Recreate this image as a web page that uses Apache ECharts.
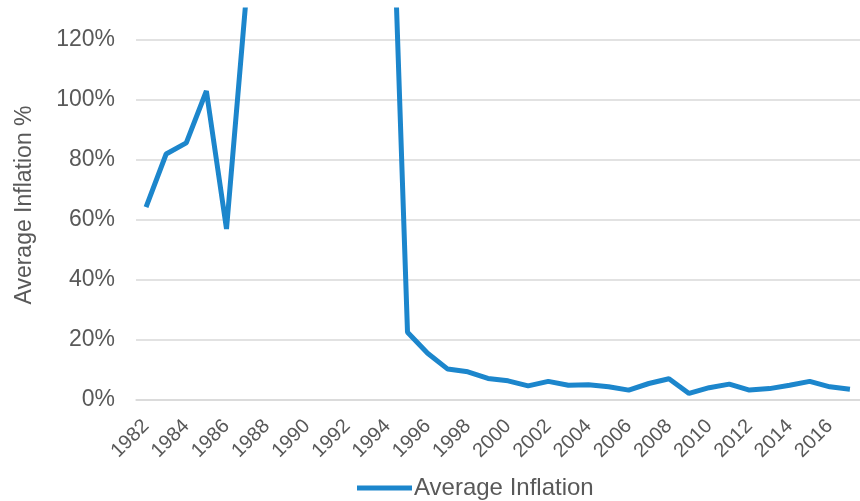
<!DOCTYPE html>
<html><head><meta charset="utf-8">
<script src="https://cdn.jsdelivr.net/npm/echarts@6/dist/echarts.min.js"></script>
<style>html,body{margin:0;padding:0;background:#fff}#c{width:860px;height:501px}</style>
</head><body><div id="c"></div>
<script>
const years = ['1982','1983','1984','1985','1986','1987','1988','1989','1990','1991','1992','1993','1994','1995','1996','1997','1998','1999','2000','2001','2002','2003','2004','2005','2006','2007','2008','2009','2010','2011','2012','2013','2014','2015','2016','2017'];
const inflation = [64.3,82,85.7,103,57,136,685,1320,2950,430,950,1930,221,22.6,15.6,10.3,9.4,7.2,6.4,4.7,6.2,4.9,5.1,4.4,3.3,5.5,7.1,2.2,4.1,5.3,3.3,3.8,4.9,6.2,4.4,3.6];
const seriesName = 'Average Inflation';
const yTicks = [0,20,40,60,80,100,120];

const chart = echarts.init(document.getElementById('c'), null, {renderer:'canvas'});
const font = 'Liberation Sans, Arial, sans-serif';
chart.setOption({
  animation:false,
  textStyle:{fontFamily:font},
  grid:{left:136,right:-7,top:10,bottom:101,containLabel:false},
  legend:{
    data:[seriesName], left:352, bottom:-4, icon:'rect', itemWidth:55, itemHeight:5, itemGap:4,
    textStyle:{fontSize:24,color:'#595959',fontFamily:font, padding:[0,0,0,-3]}
  },
  xAxis:{
    type:'category', data:years, boundaryGap:true,
    axisLine:{show:true,lineStyle:{color:'#d9d9d9',width:1.5}},
    axisTick:{show:false},
    axisLabel:{interval:1,rotate:45,fontSize:20,color:'#595959',fontFamily:font,margin:23}
  },
  yAxis:{
    type:'value', min:0, max:130, interval:20,
    name:'Average Inflation %', nameLocation:'middle', nameGap:100,
    nameTextStyle:{fontSize:23,color:'#595959',fontFamily:font},
    axisLine:{show:false}, axisTick:{show:false},
    axisLabel:{fontSize:23,color:'#595959',fontFamily:font,margin:21,showMaxLabel:false,
      formatter:v=> yTicks.includes(v) ? v+'%' : ''},
    splitLine:{show:true,showMaxLine:false,lineStyle:{color:'#d9d9d9',width:1.5}}
  },
  series:[{
    name:seriesName, type:'line', data:inflation, symbol:'none', clip:true,
    lineStyle:{color:'#1c86cc',width:5}, itemStyle:{color:'#1c86cc'}
  }]
});
</script></body></html>
